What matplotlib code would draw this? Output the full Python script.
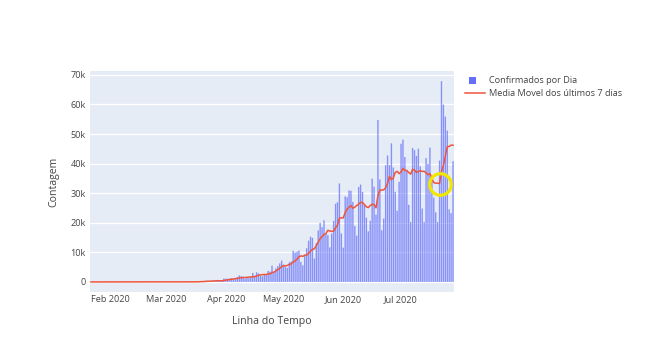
import matplotlib
matplotlib.use("Agg")
import matplotlib.pyplot as plt
from matplotlib.patches import Rectangle
from matplotlib.lines import Line2D
import pandas as pd

start_date = "2020-01-22"
# daily confirmed cases, Jan 22 .. Jul 28 2020
zeros_before = [0] * 35  # Jan 22 .. Feb 25
feb_mar = [1, 0, 0, 1,  # Feb 26-29
           0, 0, 0, 2, 4, 5, 6, 6, 0, 9, 18, 25, 21, 23, 79, 34, 57, 137, 193, 283,
           224, 418, 345, 310, 232, 482, 502, 487, 352, 323, 1138]
apr = [1119, 1074, 1146, 1222, 852, 926, 1661, 2210, 1930, 1781, 1089, 1442, 1261, 1832, 3058,
       2105, 3257, 2917, 2055, 1927, 2498, 2678, 3735, 3503, 5514, 3379, 4613, 5385, 6276, 7218]
may = [5919, 5097, 4751, 6633, 6935, 10503, 9888, 10222, 10611, 6760, 5632, 9258, 11385, 13944,
       15305, 14919, 7938, 13140, 17408, 19951, 18508, 20803, 16508, 15813, 11687, 16324, 20599,
       26417, 26928, 33274, 16409]
jun = [11598, 28936, 28633, 30925, 30830, 27075, 18912, 15654, 32091, 32913, 30412, 25982, 21704,
       17110, 20647, 34918, 32188, 22765, 54771, 34666, 17459, 21432, 39436, 42725, 39483, 46860,
       38693, 30476, 24052, 33846]
jul = [46712, 48105, 42223, 37923, 26051, 20229, 45305, 44571, 42619, 45048, 39023, 24831, 20286,
       41857, 39924, 45403, 34177, 28532, 23529, 20257, 41008, 67860, 59961, 55891, 51147, 24578,
       23284, 40816]

daily_cases = zeros_before + feb_mar + apr + may + jun + jul
highlight_date = "2020-07-21"

y_ticks = [0, 10000, 20000, 30000, 40000, 50000, 60000, 70000]
y_tick_labels = ["0", "10k", "20k", "30k", "40k", "50k", "60k", "70k"]
x_tick_dates = ["2020-02-01", "2020-03-01", "2020-04-01", "2020-05-01", "2020-06-01", "2020-07-01"]
x_tick_labels = ["Feb 2020", "Mar 2020", "Apr 2020", "May 2020", "Jun 2020", "Jul 2020"]
legend_labels = ["Confirmados por Dia", "Media Movel dos últimos 7 dias"]

dates = pd.date_range(start_date, periods=len(daily_cases), freq="D")
s = pd.Series(daily_cases, index=dates, dtype=float)
ma7 = s.rolling(7, min_periods=1).mean()

plt.rcParams["font.family"] = ["Open Sans", "DejaVu Sans"]
W, H = 660, 360
fig = plt.figure(figsize=(6.6, 3.6), dpi=100)
fig.patch.set_facecolor("white")
ax = fig.add_axes([90 / W, 1 - 292 / H, (454 - 90) / W, (292 - 71) / H])
ax.set_facecolor("#E5ECF6")

bar_color = "#636EFA"
line_color = "#EF553B"
text_color = "#444444"
bars = ax.bar(dates, s.values, width=0.72, color=bar_color, alpha=0.72, linewidth=0, zorder=2)
for b in bars:
    b.set_snap(False)
ax.plot(dates, ma7.values, color=line_color, lw=1.1, zorder=3)

hd = pd.Timestamp(highlight_date)
ax.plot([hd], [ma7.loc[hd]], marker="o", markersize=15.5, markerfacecolor="none",
        markeredgecolor="#F2E600", markeredgewidth=2.3, zorder=4, clip_on=False)

ax.set_xlim(dates[0] - pd.Timedelta(hours=12), dates[-1] + pd.Timedelta(hours=12))
ax.set_ylim(-3400, 71300)

ax.set_yticks(y_ticks)
ax.set_yticklabels(y_tick_labels)
ax.set_xticks([pd.Timestamp(d) for d in x_tick_dates])
ax.set_xticklabels(x_tick_labels)
ax.tick_params(axis="both", length=0, labelsize=6.6, colors=text_color)
ax.tick_params(axis="x", pad=2)
ax.tick_params(axis="y", pad=3)
ax.grid(axis="y", color="white", lw=1, zorder=1)
ax.set_axisbelow(True)
for sp in ax.spines.values():
    sp.set_visible(False)

ax.set_xlabel("Linha do Tempo", fontsize=7.6, color=text_color, labelpad=9)
ax.set_ylabel("Contagem", fontsize=7.6, color=text_color, labelpad=8)

# legend drawn in figure pixel coordinates
fig.add_artist(Rectangle((469 / W, 1 - 84 / H), 7 / W, 7 / H, transform=fig.transFigure,
                         facecolor=bar_color, edgecolor="none"))
fig.add_artist(Line2D([465 / W, 485 / W], [1 - 93 / H, 1 - 93 / H], transform=fig.transFigure,
                      color=line_color, lw=1.1))
fig.text(489 / W, 1 - 80.5 / H, legend_labels[0], fontsize=6.6, color=text_color, va="center", ha="left")
fig.text(489 / W, 1 - 93 / H, legend_labels[1], fontsize=6.6, color=text_color, va="center", ha="left")

fig.savefig("out.png", dpi=100)
